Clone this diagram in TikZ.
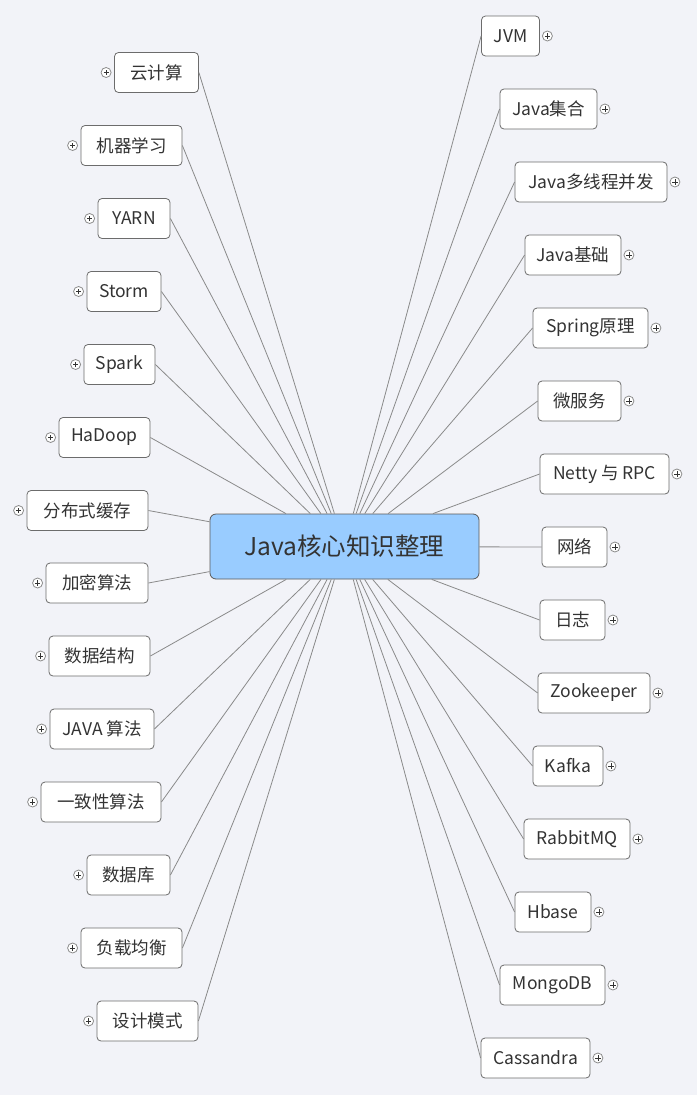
\documentclass[tikz,border=0pt]{standalone}
\usepackage{fontspec}
\setmainfont{Noto Sans CJK SC}
\definecolor{bgcol}{HTML}{F2F3F8}
\definecolor{rootfill}{HTML}{99CCFF}
\definecolor{txtcol}{HTML}{333333}
\definecolor{linecol}{HTML}{8A8A8A}
\begin{document}
\begin{tikzpicture}[x=1pt,y=-1pt,
  conn/.style={draw=linecol, line width=0.8pt},
  child/.style={draw=gray!85!black, fill=white, rounded corners=4pt, line width=0.8pt,
    minimum height=40pt, inner sep=0pt, text=txtcol, font=\fontsize{17.5}{17.5}\selectfont},
  root/.style={draw=gray!70!black, fill=rootfill, rounded corners=6pt, line width=0.8pt,
    minimum width=269pt, minimum height=65pt, inner sep=0pt, text=txtcol, font=\fontsize{24.5}{24.5}\selectfont},
  expander/.style={circle, draw=gray!90, fill=white, line width=0.8pt, minimum size=10pt, inner sep=0pt,
    path picture={\draw[line width=0.8pt, black!80] (path picture bounding box.center) ++(-2.6pt,0) -- ++(5.2pt,0)
      (path picture bounding box.center) ++(0,-2.6pt) -- ++(0,5.2pt);}}
]
\fill[bgcol] (0,0) rectangle (697,1095);
\useasboundingbox (0,0) rectangle (697,1095);
\node[root] (C) at (344.5,546.5) {Java核心知识整理};
\foreach \n/\cx/\cy/\w/\t in {
  L1/156.5/72.5/84/云计算,
  L2/131.5/145.5/101/机器学习,
  L3/134/218.5/72/YARN,
  L4/124/291.5/74/Storm,
  L5/119.5/364.5/71/Spark,
  L6/104.5/437.5/91/HaDoop,
  L7/87.5/510.5/121/分布式缓存,
  L8/97/583/102/加密算法,
  L9/99.5/656/101/数据结构,
  L10/102/729/104/JAVA 算法,
  L11/101/802/120/一致性算法,
  L12/128.5/875/83/数据库,
  L13/131.5/948/101/负载均衡,
  L14/147.5/1021/101/设计模式}{
  \node[child, minimum width=\w pt] (\n) at (\cx,\cy) {\t};
  \draw[conn] (C) -- (\n.east);
  \node[expander] (\n x) at ([xshift=-8pt]\n.west) {};
}
\foreach \n/\cx/\cy/\w/\t in {
  R1/510.5/36/58/JVM,
  R2/548.5/109/97/Java集合,
  R3/591/182/152/Java多线程并发,
  R4/573/255/96/Java基础,
  R5/590.5/328/115/Spring原理,
  R6/579.5/401/83/微服务,
  R7/604.5/474/129/Netty 与 RPC,
  R8/574.5/547/65/网络,
  R9/572.5/620/65/日志,
  R10/594/693/112/Zookeeper,
  R11/568/766/70/Kafka,
  R12/577/839/106/RabbitMQ,
  R13/553/912/76/Hbase,
  R14/552.5/985/105/MongoDB,
  R15/535.5/1058/109/Cassandra}{
  \node[child, minimum width=\w pt] (\n) at (\cx,\cy) {\t};
  \draw[conn] (C) -- (\n.west);
  \node[expander] (\n x) at ([xshift=7.5pt]\n.east) {};
}
\end{tikzpicture}
\end{document}
